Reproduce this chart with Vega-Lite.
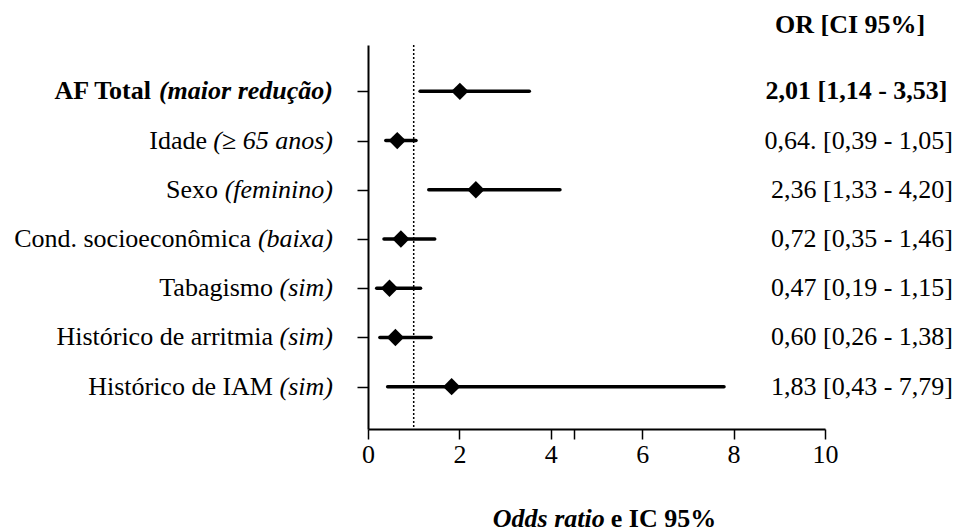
{
  "$schema": "https://vega.github.io/schema/vega-lite/v6.json",
  "width": 457,
  "height": 384,
  "autosize": {"type": "none"},
  "padding": {"left": 368, "top": 45, "right": 135, "bottom": 103},
  "background": "white",
  "config": {
    "view": {"stroke": null},
    "font": "'Liberation Serif', 'Times New Roman', 'DejaVu Serif', serif",
    "text": {"font": "'Liberation Serif', 'Times New Roman', 'DejaVu Serif', serif", "fontSize": 26, "color": "black", "baseline": "middle"},
    "axis": {"labelFont": "'Liberation Serif', 'Times New Roman', 'DejaVu Serif', serif"}
  },
  "data": {
    "values": [
      {"row": 1, "main": "AF Total", "qual": "(maior redução)", "or": 2.01, "lo": 1.14, "hi": 3.53, "ci": "2,01 [1,14 - 3,53]"},
      {"row": 2, "main": "Idade", "qual": "(≥ 65 anos)", "or": 0.64, "lo": 0.39, "hi": 1.05, "ci": "0,64. [0,39 - 1,05]"},
      {"row": 3, "main": "Sexo", "qual": "(feminino)", "or": 2.36, "lo": 1.33, "hi": 4.20, "ci": "2,36 [1,33 - 4,20]"},
      {"row": 4, "main": "Cond. socioeconômica", "qual": "(baixa)", "or": 0.72, "lo": 0.35, "hi": 1.46, "ci": "0,72 [0,35 - 1,46]"},
      {"row": 5, "main": "Tabagismo", "qual": "(sim)", "or": 0.47, "lo": 0.19, "hi": 1.15, "ci": "0,47 [0,19 - 1,15]"},
      {"row": 6, "main": "Histórico de arritmia", "qual": "(sim)", "or": 0.60, "lo": 0.26, "hi": 1.38, "ci": "0,60 [0,26 - 1,38]"},
      {"row": 7, "main": "Histórico de IAM", "qual": "(sim)", "or": 1.83, "lo": 0.43, "hi": 7.79, "ci": "1,83 [0,43 - 7,79]"}
    ]
  },
  "layer": [
    {
      "mark": {"type": "rule", "color": "black", "strokeWidth": 3.5, "strokeCap": "round"},
      "encoding": {
        "x": {"field": "lo", "type": "quantitative", "title": null, "scale": {"domain": [0, 10], "nice": false, "zero": false},
          "axis": {"values": [0, 2, 4, 4.5, 6, 8, 10], "labelExpr": "datum.value == 4.5 ? '' : datum.label", "title": null, "grid": false,
            "domainColor": "black", "domainWidth": 2, "tickColor": "black", "tickWidth": 1.5, "tickSize": 10,
            "labelFontSize": 26, "labelColor": "black", "labelPadding": 2, "labelFlush": false, "labelOverlap": false}},
        "x2": {"field": "hi"},
        "y": {"field": "row", "type": "quantitative", "title": null, "scale": {"domain": [0.0595, 7.859], "reverse": true, "nice": false, "zero": false},
          "axis": {"values": [1, 2, 3, 4, 5, 6, 7], "labels": false, "title": null, "grid": false, "tickSize": 11, "tickColor": "black", "tickWidth": 1.5, "domainColor": "black", "domainWidth": 2}}
      }
    },
    {
      "mark": {"type": "point", "shape": "diamond", "filled": true, "color": "black", "size": 300, "opacity": 1},
      "encoding": {
        "x": {"field": "or", "type": "quantitative", "title": null, "scale": {"domain": [0, 10], "nice": false, "zero": false}},
        "y": {"field": "row", "type": "quantitative", "title": null, "scale": {"domain": [0.0595, 7.859], "reverse": true, "nice": false, "zero": false}}
      }
    },
    {
      "data": {"values": [{"ref": 1}]},
      "mark": {"type": "rule", "color": "black", "strokeWidth": 1.5, "strokeDash": [2, 2]},
      "encoding": {
        "x": {"field": "ref", "type": "quantitative", "title": null, "scale": {"domain": [0, 10], "nice": false, "zero": false}}
      }
    },
    {
      "transform": [{"filter": "datum.row == 1"}],
      "mark": {"type": "text", "align": "right", "fontWeight": "bold", "dx": -182},
      "encoding": {
        "x": {"datum": -0.766, "type": "quantitative", "scale": {"domain": [0, 10], "nice": false, "zero": false}},
        "y": {"field": "row", "type": "quantitative", "title": null, "scale": {"domain": [0.0595, 7.859], "reverse": true, "nice": false, "zero": false}},
        "text": {"field": "main"}
      }
    },
    {
      "transform": [{"filter": "datum.row == 2"}],
      "mark": {"type": "text", "align": "right", "dx": -126},
      "encoding": {
        "x": {"datum": -0.766, "type": "quantitative", "scale": {"domain": [0, 10], "nice": false, "zero": false}},
        "y": {"field": "row", "type": "quantitative", "title": null, "scale": {"domain": [0.0595, 7.859], "reverse": true, "nice": false, "zero": false}},
        "text": {"field": "main"}
      }
    },
    {
      "transform": [{"filter": "datum.row == 3"}],
      "mark": {"type": "text", "align": "right", "dx": -115},
      "encoding": {
        "x": {"datum": -0.766, "type": "quantitative", "scale": {"domain": [0, 10], "nice": false, "zero": false}},
        "y": {"field": "row", "type": "quantitative", "title": null, "scale": {"domain": [0.0595, 7.859], "reverse": true, "nice": false, "zero": false}},
        "text": {"field": "main"}
      }
    },
    {
      "transform": [{"filter": "datum.row == 4"}],
      "mark": {"type": "text", "align": "right", "dx": -82},
      "encoding": {
        "x": {"datum": -0.766, "type": "quantitative", "scale": {"domain": [0, 10], "nice": false, "zero": false}},
        "y": {"field": "row", "type": "quantitative", "title": null, "scale": {"domain": [0.0595, 7.859], "reverse": true, "nice": false, "zero": false}},
        "text": {"field": "main"}
      }
    },
    {
      "transform": [{"filter": "datum.row >= 5"}],
      "mark": {"type": "text", "align": "right", "dx": -60},
      "encoding": {
        "x": {"datum": -0.766, "type": "quantitative", "scale": {"domain": [0, 10], "nice": false, "zero": false}},
        "y": {"field": "row", "type": "quantitative", "title": null, "scale": {"domain": [0.0595, 7.859], "reverse": true, "nice": false, "zero": false}},
        "text": {"field": "main"}
      }
    },
    {
      "transform": [{"filter": "datum.row == 1"}],
      "mark": {"type": "text", "align": "right", "fontWeight": "bold", "fontStyle": "italic"},
      "encoding": {
        "x": {"datum": -0.766, "type": "quantitative", "scale": {"domain": [0, 10], "nice": false, "zero": false}},
        "y": {"field": "row", "type": "quantitative", "title": null, "scale": {"domain": [0.0595, 7.859], "reverse": true, "nice": false, "zero": false}},
        "text": {"field": "qual"}
      }
    },
    {
      "transform": [{"filter": "datum.row >= 2"}],
      "mark": {"type": "text", "align": "right", "fontStyle": "italic"},
      "encoding": {
        "x": {"datum": -0.766, "type": "quantitative", "scale": {"domain": [0, 10], "nice": false, "zero": false}},
        "y": {"field": "row", "type": "quantitative", "title": null, "scale": {"domain": [0.0595, 7.859], "reverse": true, "nice": false, "zero": false}},
        "text": {"field": "qual"}
      }
    },
    {
      "transform": [{"filter": "datum.row == 1"}],
      "mark": {"type": "text", "align": "right", "fontWeight": "bold"},
      "encoding": {
        "x": {"datum": 12.68, "type": "quantitative", "scale": {"domain": [0, 10], "nice": false, "zero": false}},
        "y": {"field": "row", "type": "quantitative", "title": null, "scale": {"domain": [0.0595, 7.859], "reverse": true, "nice": false, "zero": false}},
        "text": {"field": "ci"}
      }
    },
    {
      "transform": [{"filter": "datum.row >= 2"}],
      "mark": {"type": "text", "align": "right"},
      "encoding": {
        "x": {"datum": 12.8, "type": "quantitative", "scale": {"domain": [0, 10], "nice": false, "zero": false}},
        "y": {"field": "row", "type": "quantitative", "title": null, "scale": {"domain": [0.0595, 7.859], "reverse": true, "nice": false, "zero": false}},
        "text": {"field": "ci"}
      }
    },
    {
      "data": {"values": [{"h": "OR [CI 95%]"}]},
      "mark": {"type": "text", "align": "left", "fontWeight": "bold"},
      "encoding": {
        "x": {"datum": 8.906, "type": "quantitative", "scale": {"domain": [0, 10], "nice": false, "zero": false}},
        "y": {"datum": -0.347, "type": "quantitative", "scale": {"domain": [0.0595, 7.859], "reverse": true, "nice": false, "zero": false}},
        "text": {"field": "h"}
      }
    },
    {
      "data": {"values": [{"a": "Odds ratio", "b": "e IC 95%"}]},
      "mark": {"type": "text", "align": "right", "fontWeight": "bold", "fontStyle": "italic"},
      "encoding": {
        "x": {"datum": 5.18, "type": "quantitative", "scale": {"domain": [0, 10], "nice": false, "zero": false}},
        "y": {"datum": 9.69, "type": "quantitative", "scale": {"domain": [0.0595, 7.859], "reverse": true, "nice": false, "zero": false}},
        "text": {"field": "a"}
      }
    },
    {
      "data": {"values": [{"a": "Odds ratio", "b": "e IC 95%"}]},
      "mark": {"type": "text", "align": "left", "fontWeight": "bold", "dx": 6},
      "encoding": {
        "x": {"datum": 5.18, "type": "quantitative", "scale": {"domain": [0, 10], "nice": false, "zero": false}},
        "y": {"datum": 9.69, "type": "quantitative", "scale": {"domain": [0.0595, 7.859], "reverse": true, "nice": false, "zero": false}},
        "text": {"field": "b"}
      }
    }
  ]
}
